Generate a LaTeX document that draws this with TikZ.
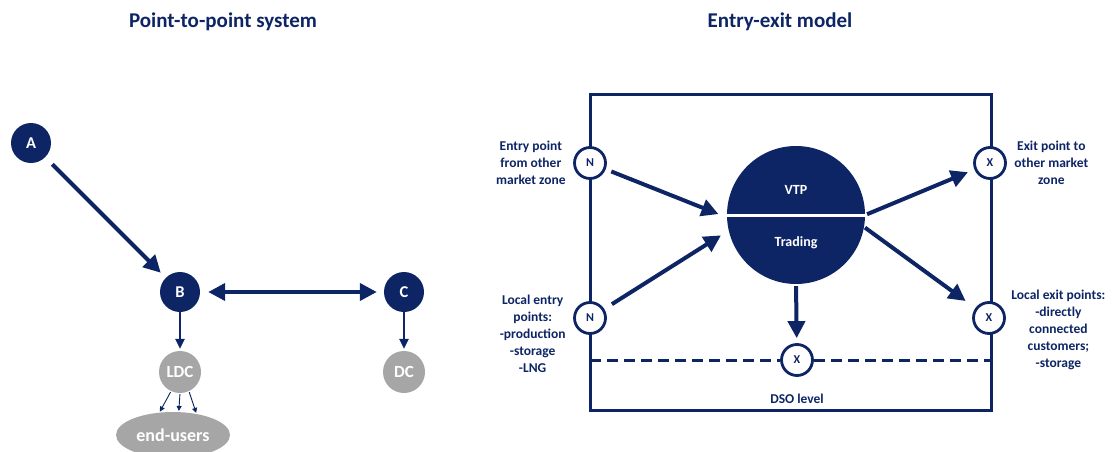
\documentclass[tikz,border=0pt]{standalone}
\usepackage{fontspec}
\setmainfont{Carlito}
\usepackage{tikz}
\usetikzlibrary{arrows.meta, positioning, shapes.geometric}
\definecolor{navy}{HTML}{0E2565}
\definecolor{lightgrey}{HTML}{A6A6A6}
\tikzset{
  title/.style={navy, font=\fontsize{21}{24}\selectfont\bfseries},
  dotnode/.style={circle, fill=navy, minimum size=40pt, inner sep=0pt, text=white, font=\fontsize{16.5}{18}\selectfont\bfseries},
  greynode/.style={circle, fill=lightgrey, minimum size=42pt, inner sep=0pt, text=white, font=\fontsize{17}{19}\selectfont\bfseries},
  pointnode/.style={circle, draw=navy, line width=2.8pt, fill=white, minimum size=31pt, inner sep=0pt, text=navy, font=\fontsize{12}{14}\selectfont\bfseries},
  note/.style={align=center, navy, font=\fontsize{13.5}{17}\selectfont\bfseries},
  bigarrow/.style={navy, line width=4pt, -{Triangle[length=17pt,width=17pt]}},
  midarrow/.style={navy, line width=2.5pt, -{Triangle[length=10pt,width=9pt]}},
  thinarrow/.style={navy, line width=0.9pt, -{Triangle[length=5pt,width=5pt]}},
}
\begin{document}
\begin{tikzpicture}[x=1pt, y=-1pt]
  \useasboundingbox (0,0) rectangle (1113,452);
  % titles
  \node[title] (ttlleft) at (223,22) {Point-to-point system};
  \node[title] (ttlright) at (780,22) {Entry-exit model};

  % point-to-point
  \node[dotnode] (a) at (31,143) {A};
  \node[dotnode] (b) at (180,292) {B};
  \node[dotnode] (c) at (404,292) {C};
  \node[greynode] (ldc) at (180,372) {LDC};
  \node[greynode] (dc) at (404,372) {DC};
  \node[ellipse, fill=lightgrey, minimum width=114pt, minimum height=46pt, inner sep=0pt, text=white, font=\fontsize{18}{20}\selectfont\bfseries] (users) at (173,435) {end-users};
  \draw[bigarrow, shorten <=10pt, shorten >=7pt] (a) -- (b);
  \draw[bigarrow, {Triangle[length=17pt,width=17pt]}-{Triangle[length=17pt,width=17pt]}, shorten <=8pt, shorten >=7pt] (b) -- (c);
  \draw[midarrow, shorten >=2pt] (b) -- (ldc);
  \draw[midarrow, shorten >=2pt] (c) -- (dc);
  \draw[thinarrow, shorten <=1pt, shorten >=1pt] (ldc.-115) -- (users.121);
  \draw[thinarrow, shorten <=1pt, shorten >=1pt] (ldc.-90) -- (users.76);
  \draw[thinarrow, shorten <=1pt, shorten >=1pt] (ldc.-65) -- (users.42);

  % entry-exit
  \draw[navy, line width=3pt] (590,94) rectangle (991,410);
  \coordinate (dsoleft) at (590,360);
  \coordinate (dsoright) at (991,360);
  \node[circle, fill=navy, minimum size=138pt, inner sep=0pt] (vtp) at (796,215) {};
  \draw[white, line width=3pt] ([xshift=-2pt]vtp.west) -- ([xshift=2pt]vtp.east);
  \node[text=white, font=\fontsize{14}{16}\selectfont\bfseries] (vtptxt) at (796,190) {VTP};
  \node[text=white, font=\fontsize{14}{16}\selectfont\bfseries] (tradetxt) at (796,243) {Trading};

  \node[pointnode] (nup) at (590,163) {N};
  \node[pointnode] (nlow) at (590,318) {N};
  \node[pointnode] (xup) at (990,163) {X};
  \node[pointnode] (xlow) at (989,318) {X};
  \node[pointnode] (xdso) at (797,360) {X};

  \draw[navy, line width=3pt, dashed, dash pattern=on 11pt off 6pt] (dsoleft) -- (xdso);
  \draw[navy, line width=3pt, dashed, dash pattern=on 11pt off 6pt] (xdso) -- (dsoright);

  \draw[bigarrow, shorten <=6pt, shorten >=9pt] (nup) -- (vtp.182);
  \draw[bigarrow, shorten <=9pt, shorten >=9pt] (nlow) -- (vtp.193);
  \draw[bigarrow, shorten <=2pt, shorten >=7pt] (vtp.0) -- (xup);
  \draw[bigarrow, shorten <=1pt, shorten >=12pt] (vtp.-10) -- (xlow);
  \draw[bigarrow, shorten <=2pt, shorten >=5pt] (vtp.south) -- (xdso);

  \node[note, left=4pt of nup] (nupnote) {Entry point\\from other\\market zone};
  \node[note, left=4pt of nlow, yshift=-16pt] (nlownote) {Local entry\\points:\\-production\\-storage\\-LNG};
  \node[note, right=4pt of xup] (xupnote) {Exit point to\\other market\\zone};
  \node[note, right=2pt of xlow, yshift=-12pt] (xlownote) {Local exit points:\\-directly\\connected\\customers;\\-storage};
  \node[note, below=14pt of xdso] (dsonote) {DSO level};
\end{tikzpicture}
\end{document}
